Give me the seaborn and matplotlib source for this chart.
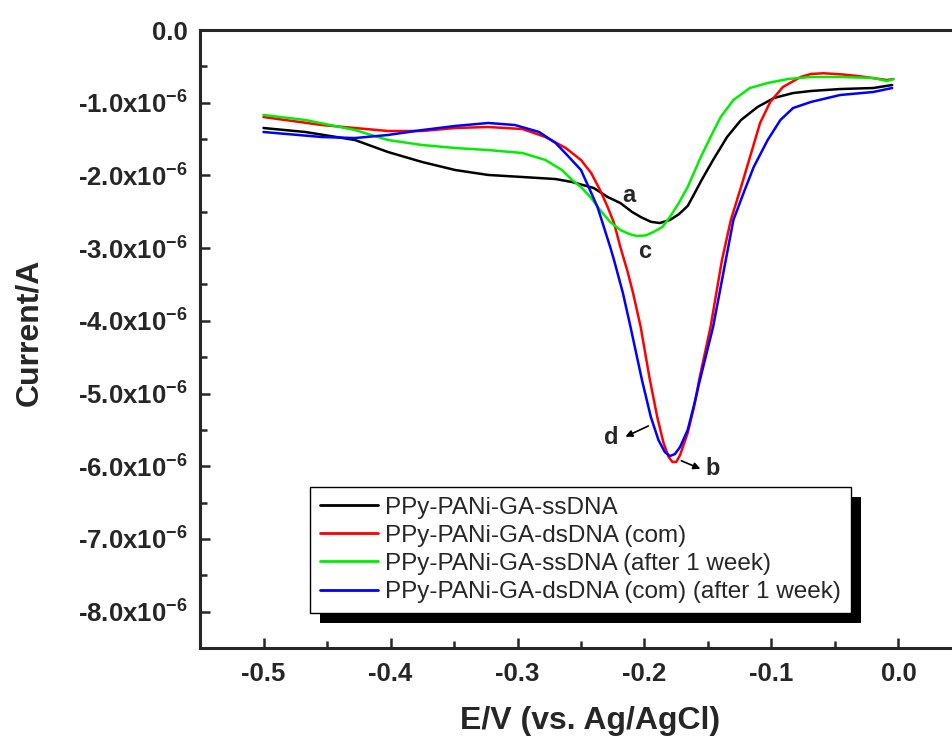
import numpy as np
import pandas as pd
import matplotlib
matplotlib.use("Agg")
import matplotlib.pyplot as plt
from matplotlib.ticker import MultipleLocator, FuncFormatter
from matplotlib.patches import Rectangle
import seaborn as sns

# E (V) and current (uA)
e_ss = [-0.500, -0.467, -0.428, -0.402, -0.375, -0.349, -0.323, -0.296, -0.270, -0.257,
        -0.240, -0.229, -0.219, -0.210, -0.203, -0.195, -0.188, -0.180, -0.173, -0.166,
        -0.161, -0.155, -0.146, -0.135, -0.124, -0.111, -0.098, -0.083, -0.069, -0.046,
        -0.020, -0.005]
i_ss = [-1.348, -1.403, -1.513, -1.678, -1.816, -1.926, -1.994, -2.022, -2.050, -2.091,
        -2.173, -2.297, -2.380, -2.500, -2.572, -2.638, -2.655, -2.613, -2.535, -2.420,
        -2.260, -2.063, -1.788, -1.472, -1.238, -1.059, -0.935, -0.867, -0.839, -0.812,
        -0.798, -0.757]

e_ds = [-0.500, -0.454, -0.402, -0.375, -0.349, -0.323, -0.296, -0.278, -0.262, -0.250,
        -0.242, -0.235, -0.229, -0.224, -0.219, -0.213, -0.209, -0.203, -0.196, -0.190,
        -0.185, -0.181, -0.178, -0.175, -0.172, -0.166, -0.161, -0.157, -0.148, -0.139,
        -0.132, -0.124, -0.116, -0.109, -0.101, -0.091, -0.077, -0.069, -0.059, -0.045,
        -0.032, -0.009, -0.004]
i_ds = [-1.197, -1.307, -1.389, -1.389, -1.348, -1.334, -1.362, -1.472, -1.623, -1.788,
        -1.967, -2.201, -2.435, -2.655, -2.985, -3.343, -3.618, -4.085, -4.790, -5.320,
        -5.681, -5.873, -5.942, -5.942, -5.846, -5.543, -5.186, -4.814, -4.085, -3.164,
        -2.613, -2.160, -1.692, -1.279, -0.990, -0.784, -0.646, -0.605, -0.595, -0.610,
        -0.633, -0.688, -0.674]

e_ss_wk = [-0.500, -0.467, -0.428, -0.402, -0.375, -0.349, -0.323, -0.296, -0.278, -0.265,
           -0.257, -0.250, -0.242, -0.235, -0.227, -0.219, -0.212, -0.206, -0.199, -0.193,
           -0.186, -0.180, -0.173, -0.166, -0.156, -0.148, -0.140, -0.130, -0.117, -0.103,
           -0.087, -0.069, -0.046, -0.020, -0.009, -0.004]
i_ss_wk = [-1.169, -1.238, -1.376, -1.513, -1.582, -1.623, -1.651, -1.692, -1.788, -1.926,
           -2.063, -2.160, -2.311, -2.476, -2.641, -2.751, -2.806, -2.834, -2.825, -2.779,
           -2.710, -2.572, -2.380, -2.160, -1.761, -1.472, -1.197, -0.963, -0.798, -0.729,
           -0.674, -0.646, -0.646, -0.660, -0.702, -0.674]

e_ds_wk = [-0.500, -0.454, -0.428, -0.402, -0.375, -0.349, -0.323, -0.302, -0.283, -0.270,
           -0.261, -0.250, -0.244, -0.237, -0.227, -0.224, -0.217, -0.211, -0.202, -0.195,
           -0.189, -0.184, -0.180, -0.176, -0.172, -0.166, -0.160, -0.157, -0.146, -0.136,
           -0.130, -0.122, -0.114, -0.103, -0.093, -0.083, -0.069, -0.046, -0.020, -0.005]
i_ds_wk = [-1.403, -1.472, -1.486, -1.444, -1.376, -1.320, -1.279, -1.307, -1.403, -1.554,
           -1.719, -1.926, -2.160, -2.435, -2.985, -3.164, -3.618, -4.085, -4.814, -5.323,
           -5.640, -5.805, -5.860, -5.832, -5.736, -5.502, -5.089, -4.860, -4.085, -3.164,
           -2.613, -2.242, -1.884, -1.513, -1.238, -1.073, -0.990, -0.894, -0.853, -0.798]

labels = ["PPy-PANi-GA-ssDNA", "PPy-PANi-GA-dsDNA (com)",
          "PPy-PANi-GA-ssDNA (after 1 week)", "PPy-PANi-GA-dsDNA (com) (after 1 week)"]
colors = ["#000000", "#ff0000", "#00ee00", "#0000ff"]

frames = []
for lab, e, i in zip(labels, [e_ss, e_ds, e_ss_wk, e_ds_wk], [i_ss, i_ds, i_ss_wk, i_ds_wk]):
    frames.append(pd.DataFrame({"E": e, "I": np.array(i) * 1e-6, "sample": lab}))
df = pd.concat(frames, ignore_index=True)

sns.set_style("ticks")
plt.rcParams["font.family"] = ["Liberation Sans", "DejaVu Sans"]
plt.rcParams["mathtext.fontset"] = "custom"
plt.rcParams["mathtext.rm"] = "Liberation Sans:bold"
plt.rcParams["mathtext.default"] = "rm"

fig = plt.figure(figsize=(9.53, 7.45), dpi=100)
ax = fig.add_axes([200 / 953, 97 / 745, 762 / 953, 618 / 745])

sns.lineplot(data=df, x="E", y="I", hue="sample", hue_order=labels,
             palette=colors, sort=False, estimator=None, linewidth=1.8, ax=ax)

ax.set_xlim(-0.55, 0.05)
ax.set_ylim(-8.5e-6, 0)
ax.xaxis.set_major_locator(MultipleLocator(0.1))
ax.xaxis.set_minor_locator(MultipleLocator(0.05))
ax.yaxis.set_major_locator(MultipleLocator(1e-6))
ax.yaxis.set_minor_locator(MultipleLocator(0.5e-6))


def yfmt(v, pos):
    m = v / 1e-6
    if abs(m) < 1e-9:
        return "0.0"
    return f"{m:.1f}x10$^{{-6}}$"


ax.yaxis.set_major_formatter(FuncFormatter(yfmt))
ax.xaxis.set_major_formatter(FuncFormatter(lambda v, p: f"{v:.1f}" if abs(v) > 1e-9 else "0.0"))

for s in ["left", "bottom", "top", "right"]:
    ax.spines[s].set_linewidth(2.2)
    ax.spines[s].set_visible(True)
ax.tick_params(which="both", direction="in", width=1.8, labelsize=18.5, top=False, right=False)
ax.tick_params(which="major", length=7)
ax.tick_params(which="minor", length=5)
ax.tick_params(axis="y", pad=9)
ax.tick_params(axis="x", pad=10)
for t in ax.get_xticklabels() + ax.get_yticklabels():
    t.set_fontweight("bold")

ax.set_xlabel("E/V (vs. Ag/AgCl)", fontsize=23, fontweight="bold")
ax.set_ylabel("Current/A", fontsize=23, fontweight="bold")
ax.xaxis.set_label_coords(0.512, -0.094)
ax.yaxis.set_label_coords(-0.205, 0.511)

# curve letters
ax.text(-0.2126, -2.28e-6, "a", fontsize=17, fontweight="bold", ha="center", va="center")
ax.text(-0.200, -3.05e-6, "c", fontsize=17, fontweight="bold", ha="center", va="center")
ax.text(-0.226, -5.60e-6, "d", fontsize=17, fontweight="bold", ha="center", va="center")
ax.text(-0.146, -6.03e-6, "b", fontsize=17, fontweight="bold", ha="center", va="center")
ax.annotate("", xy=(-0.217, -5.61e-6), xytext=(-0.195, -5.43e-6),
            arrowprops=dict(arrowstyle="-|>", color="black", lw=1.2, mutation_scale=10))
ax.annotate("", xy=(-0.154, -6.05e-6), xytext=(-0.173, -5.91e-6),
            arrowprops=dict(arrowstyle="-|>", color="black", lw=1.2, mutation_scale=10))

leg = ax.legend(loc="upper left", bbox_to_anchor=(310 / 953, 1 - 487 / 745),
                bbox_transform=fig.transFigure, borderaxespad=0, fontsize=17.5,
                fancybox=False, framealpha=1, edgecolor="black", handlelength=2.4,
                handletextpad=0.3, labelspacing=0.25, borderpad=0.4, title=None)
leg.get_frame().set_linewidth(1.0)
for line in leg.get_lines():
    line.set_linewidth(2.0)

# solid black drop shadow behind the legend box
fig.canvas.draw()
bb = leg.get_window_extent()
shadow = Rectangle((bb.x0 + 10, bb.y0 - 10), bb.width, bb.height, transform=None,
                   facecolor="black", edgecolor="none", zorder=4.9, clip_on=False)
ax.add_artist(shadow)

fig.savefig("out.png", dpi=100)
